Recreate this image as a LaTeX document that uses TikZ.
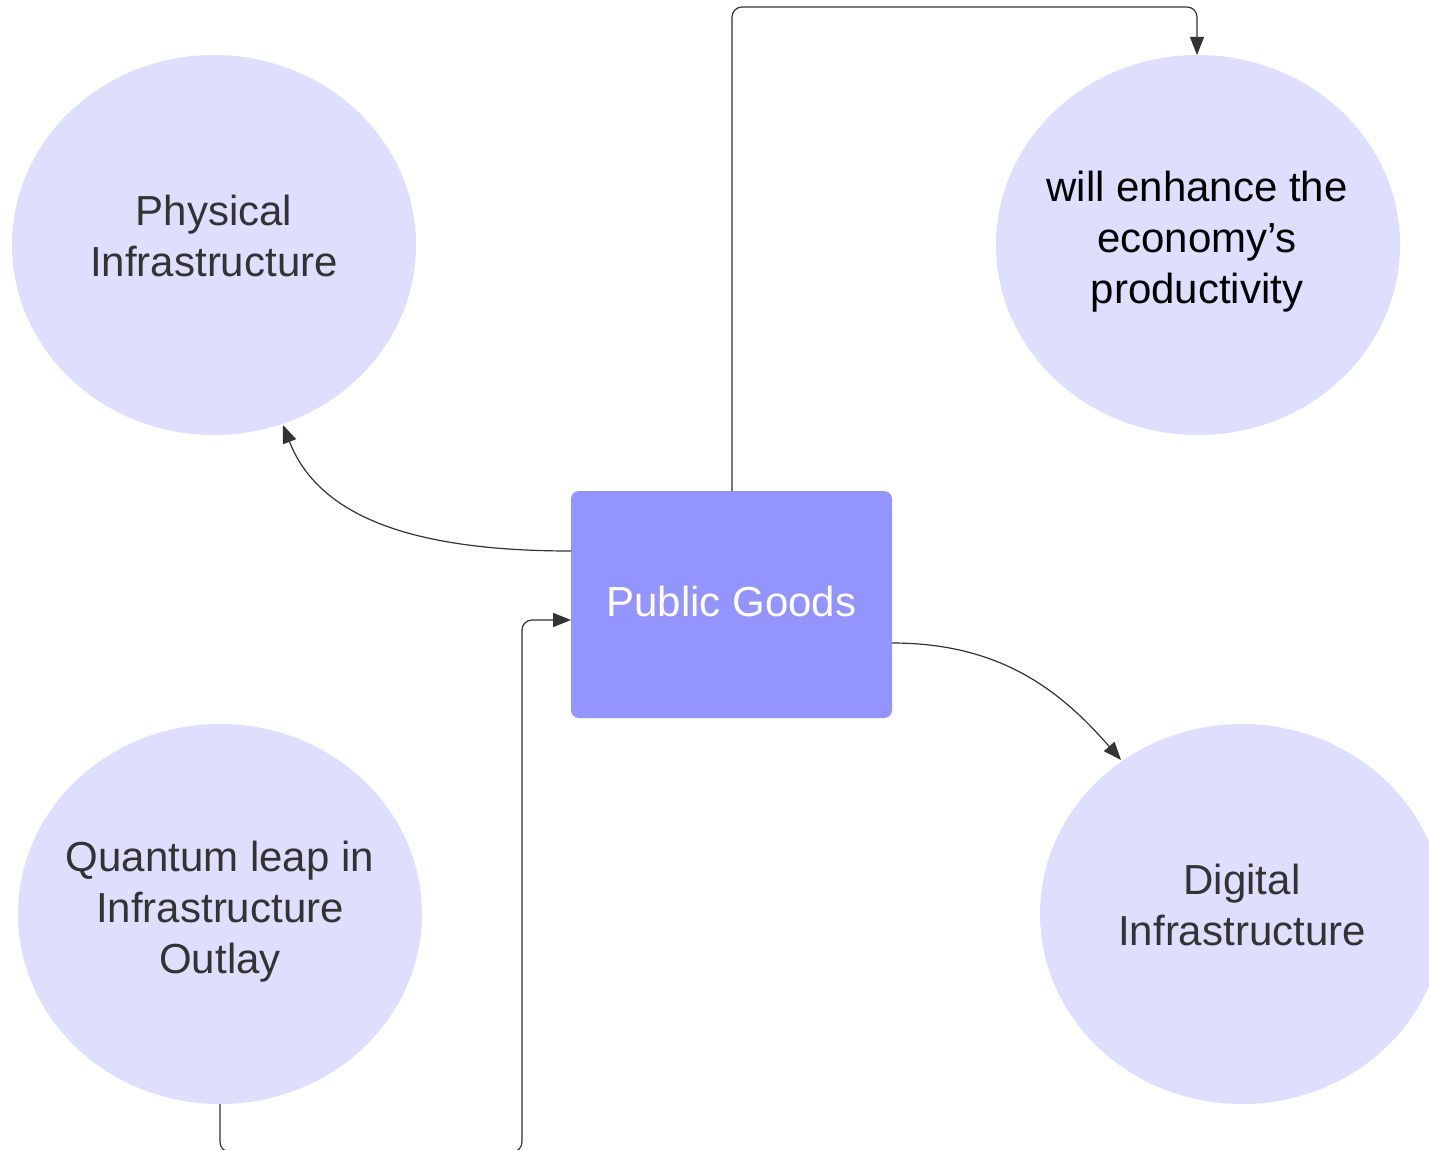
\documentclass[tikz,border=0pt]{standalone}
\usepackage{fontspec}
\setmainfont{Liberation Sans}
\usetikzlibrary{shapes.geometric,arrows.meta}
\definecolor{circfill}{HTML}{DEDEFF}
\definecolor{boxfill}{HTML}{9494FF}
\definecolor{txtgray}{HTML}{333333}
\definecolor{linegray}{HTML}{333333}
\tikzset{
  bubble/.style={ellipse,fill=circfill,draw=none,minimum width=404pt,minimum height=380pt,inner sep=0pt},
  label/.style={align=center,text=txtgray,font=\fontsize{42}{51}\selectfont,inner sep=0pt},
  pgbox/.style={rectangle,rounded corners=8pt,fill=boxfill,draw=none,minimum width=321pt,minimum height=227pt,inner sep=0pt},
  conn/.style={draw=linegray,line width=1.2pt,-{Triangle[length=18pt,width=14pt]}},
}
\begin{document}
\begin{tikzpicture}[x=1pt,y=-1pt]
\useasboundingbox (0,0) rectangle (1429,1150);
\fill[white] (0,0) rectangle (1429,1150);
% shapes
\node[bubble] (phys) at (214,245) {};
\node[bubble] (prod) at (1198,245) {};
\node[bubble] (quant) at (220,914) {};
\node[bubble] (digi) at (1242,914) {};
\node[pgbox] (pg) at (731.5,604.5) {};
% texts
\node[label] (physt) at (214,236) {Physical\\Infrastructure};
\node[label,text=black] (prodt) at (1197,242) {will enhance the\\economy’s\\productivity};
\node[label] (quantt) at (220,912) {Quantum leap in\\Infrastructure\\Outlay};
\node[label] (digit) at (1242,905) {Digital\\Infrastructure};
\node[label,text=white] (pgt) at (731.5,601) {Public Goods};
% connector coordinates
\coordinate (c1a) at (732,491);
\coordinate (c1b) at (732,7);
\coordinate (c1c) at (1197,7);
\coordinate (c1d) at (1197,55);
\coordinate (c2a) at (571,551);
\coordinate (c2b) at (283,425);
\coordinate (c3a) at (892,643);
\coordinate (c3b) at (1121,760);
\coordinate (c4a) at (220,1104);
\coordinate (c4b) at (220,1152);
\coordinate (c4c) at (522,1152);
\coordinate (c4d) at (522,620);
\coordinate (c4e) at (571,620);
% connectors
\draw[conn,rounded corners=10pt] (c1a) -- (c1b) -- (c1c) -- (c1d);
\draw[conn] (c2a) .. controls (420,551) and (320,520) .. (c2b);
\draw[conn] (c3a) .. controls (1000,643) and (1060,690) .. (c3b);
\draw[conn,rounded corners=10pt] (c4a) -- (c4b) -- (c4c) -- (c4d) -- (c4e);
\end{tikzpicture}
\end{document}
